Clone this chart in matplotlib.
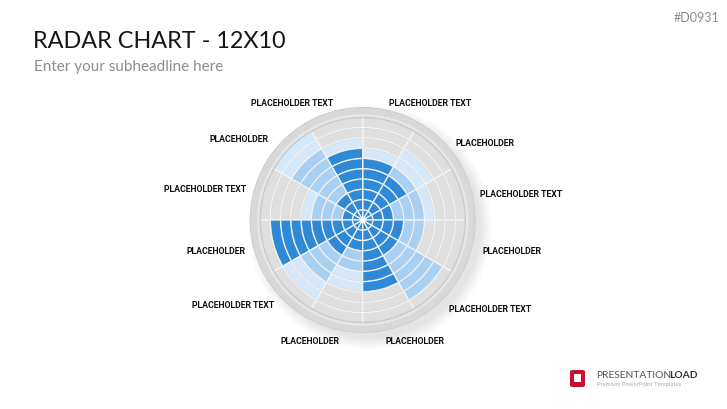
import numpy as np
import matplotlib
matplotlib.use("Agg")
import matplotlib.pyplot as plt
from matplotlib.patches import Ellipse, Rectangle, FancyBboxPatch

# ---------------- data ----------------
n_sectors = 12
n_rings = 10
# sectors counter-clockwise starting at east (0 deg)
dark_vals = [3, 5, 6, 7, 3, 2, 9, 4, 3, 7, 4, 4]
medium_vals = [6, 6, 6, 7, 8, 5, 9, 7, 5, 7, 9, 6]
light_vals = [7, 8, 7, 8, 10, 6, 9, 9, 7, 7, 9, 6]

label_texts = ["PLACEHOLDER TEXT", "PLACEHOLDER", "PLACEHOLDER TEXT",
               "PLACEHOLDER TEXT", "PLACEHOLDER", "PLACEHOLDER TEXT",
               "PLACEHOLDER", "PLACEHOLDER TEXT", "PLACEHOLDER",
               "PLACEHOLDER", "PLACEHOLDER TEXT", "PLACEHOLDER"]
label_px = [(521, 194), (485, 143), (430, 103), (292, 103), (239, 140),
            (205, 190), (216, 252), (233, 305), (310, 342), (415, 342),
            (490, 309), (512, 251)]

title = "RADAR CHART - 12X10"
subtitle = "Enter your subheadline here"
code = "#D0931"

# ---------------- colours ----------------
C_DARK = "#2e8ad7"
C_MED = "#a8d0f2"
C_LIGHT = "#d4e8f9"
C_GRAY = "#dfdfdf"
C_BEZEL = "#d8d8d8"

LABEL_FONT = ["DejaVu Sans Condensed", "Roboto", "DejaVu Sans"]
HEAD_FONT = ["Lato", "DejaVu Sans"]

W, H = 727, 409
fig = plt.figure(figsize=(W / 100, H / 100), dpi=100)
fig.patch.set_facecolor("white")

cx, cy = 362.7, 220.0       # centre in pixels (from top)
r_outer = 113.0             # bezel outer radius in px


def fx(x):
    return x / W


def fy(y):
    return 1 - y / H


# soft shadow to lower-right (behind everything)
for i in range(9):
    rr = r_outer + 9 - i * 1.4
    e = Ellipse((fx(cx + 7), fy(cy + 7)), 2 * rr / W, 2 * rr / H,
                transform=fig.transFigure, facecolor="#000000",
                alpha=0.011, edgecolor="none", zorder=-10)
    fig.patches.append(e)

ax = fig.add_axes([fx(cx - r_outer), fy(cy + r_outer),
                   2 * r_outer / W, 2 * r_outer / H], projection="polar")
ax.patch.set_alpha(0)
ax.set_ylim(0, 11)
ax.set_axis_off()

# bezel
ax.bar(0, 1.0, width=2 * np.pi, bottom=10.0, color=C_BEZEL,
       edgecolor="none", align="edge")
ax.bar(0, 0.3, width=2 * np.pi, bottom=10.0, color="#e6e6e6",
       edgecolor="none", align="edge")

theta_w = 2 * np.pi / n_sectors
for s in range(n_sectors):
    th = s * theta_w
    for ring in range(n_rings):
        level = ring + 1
        if level <= dark_vals[s]:
            col = C_DARK
        elif level <= medium_vals[s]:
            col = C_MED
        elif level <= light_vals[s]:
            col = C_LIGHT
        else:
            col = C_GRAY
        ax.bar(th, 1.0, width=theta_w, bottom=ring, color=col,
               edgecolor="#f5f5f5", linewidth=0.9, align="edge")

# thin darker outlines on rings for bevel look
t = np.linspace(0, 2 * np.pi, 400)
for ring in range(1, n_rings + 1):
    ax.plot(t, np.full_like(t, ring - 0.07), color="#bdbdbd", lw=0.35,
            alpha=0.55)
ax.plot(t, np.full(400, 10.0), color="#c6c6c6", lw=0.8)
ax.plot(t, np.full(400, 10.97), color="#cdcdcd", lw=0.8)
ax.scatter([0], [0], s=6, color="white", zorder=5)

# labels
for txt, (x, y) in zip(label_texts, label_px):
    fig.text(fx(x), fy(y), txt, ha="center", va="center", fontsize=6.3,
             fontweight="bold", color="#111111", family=LABEL_FONT,
             zorder=10)

# header
fig.text(fx(33), fy(42), title, ha="left", va="center", fontsize=16.8,
         color="#161616", family=HEAD_FONT)
fig.text(fx(34), fy(67), subtitle, ha="left", va="center", fontsize=11,
         color="#8d8d8d", family=HEAD_FONT)
fig.text(fx(719), fy(18), code, ha="right", va="center", fontsize=9,
         color="#8d8d8d", family=HEAD_FONT)

# logo
fig.patches.append(FancyBboxPatch((fx(570), fy(387)), 15 / W, 17 / H,
                                  boxstyle="round,pad=0,rounding_size=0.004",
                                  transform=fig.transFigure,
                                  facecolor="#c8102e", edgecolor="none"))
fig.patches.append(Rectangle((fx(574), fy(382)), 7 / W, 8 / H,
                             transform=fig.transFigure, facecolor="white",
                             edgecolor="none"))
t1 = fig.text(fx(596), fy(375), "PRESENTATION", ha="left", va="center",
              fontsize=7.4, color="#555555", family=HEAD_FONT)
renderer = fig.canvas.get_renderer()
bb = t1.get_window_extent(renderer=renderer)
fig.text((bb.x1 - 2.5) / W, fy(375), "LOAD", ha="left", va="center",
         fontsize=7.4, color="#333333", fontweight="bold", family=HEAD_FONT)
fig.text(fx(597), fy(384.5), "Premium PowerPoint Templates", ha="left",
         va="center", fontsize=4.3, color="#aaaaaa", family=HEAD_FONT)

fig.savefig("out.png", dpi=100, facecolor="white")
